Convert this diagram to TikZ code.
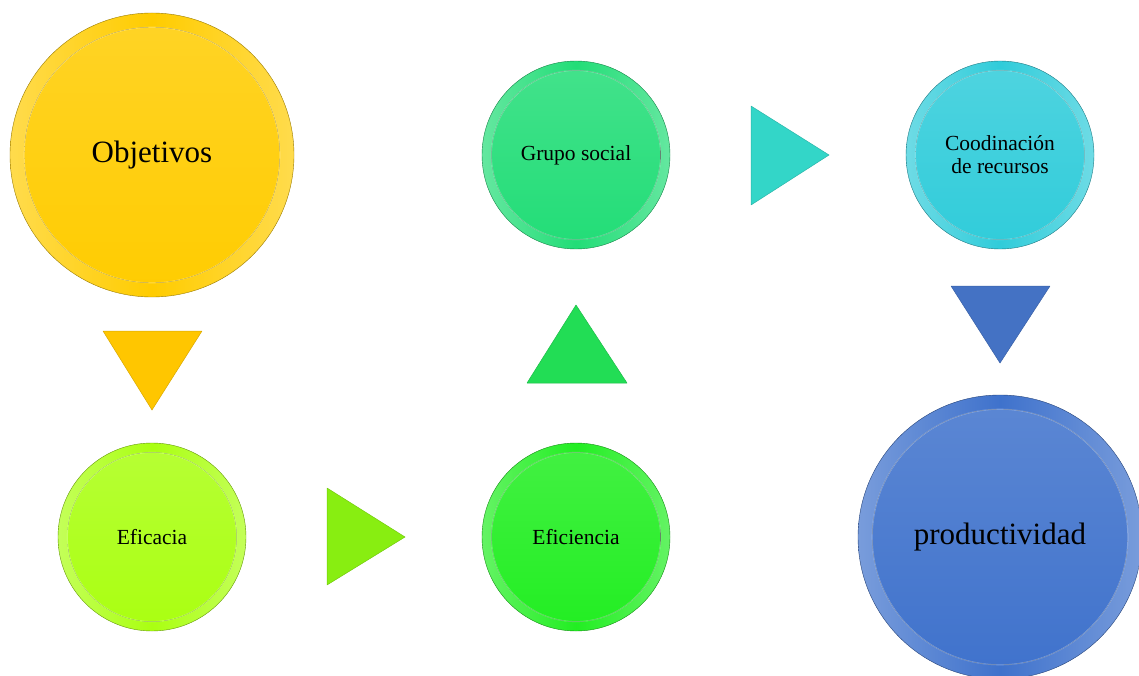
\documentclass[tikz,border=0pt]{standalone}
\usepackage{fontspec}
\setmainfont{Liberation Serif}
\definecolor{objcol}{HTML}{FFCC00}
\definecolor{eficol}{HTML}{AAFF11}
\definecolor{efncol}{HTML}{22EE22}
\definecolor{grucol}{HTML}{22DD77}
\definecolor{coocol}{HTML}{30CCDA}
\definecolor{procol}{HTML}{3F72CC}
\definecolor{triA}{HTML}{FFC600}
\definecolor{triB}{HTML}{88EE11}
\definecolor{triC}{HTML}{22DD55}
\definecolor{triD}{HTML}{33D6C8}
\definecolor{triE}{HTML}{4472C4}
\tikzset{
  bead/.style 2 args={circle, inner sep=0pt, outer sep=0pt, align=center,
    minimum size={2*#1pt}, draw=#2!60!black, line width=0.4pt,
    left color=#2!70!white, right color=#2!70!white, middle color=#2,
    path picture={
      \fill[top color=#2!85!white, bottom color=#2]
        (path picture bounding box.center) circle ({0.9*#1pt});
      \draw[white, opacity=0.3, line width=1pt]
        (path picture bounding box.center) circle ({0.9*#1pt});
    }},
  bigtext/.style={font=\fontsize{31}{36}\selectfont},
  smalltext/.style={font=\fontsize{21.5}{23}\selectfont},
  wedge/.style={fill=#1, draw=#1!85!black, line width=0.5pt, line join=round}
}
\begin{document}
\begin{tikzpicture}[x=1pt, y=-1pt]
\useasboundingbox (0,0) rectangle (1139,676);
% circles
\node[bead={142}{objcol}, bigtext]   (obj) at (152,155) {Objetivos};
\node[bead={94}{eficol}, smalltext]  (efa) at (152,537) {Eficacia};
\node[bead={94}{efncol}, smalltext]  (efn) at (576,537) {Eficiencia};
\node[bead={94}{grucol}, smalltext]  (gru) at (576,155) {Grupo social};
\node[bead={94}{coocol}, smalltext]  (coo) at (1000,155) {Coodinación\\de recursos};
\node[bead={142}{procol}, bigtext]   (pro) at (1000,537) {productividad};
% triangles
\path[wedge=triA] (103,331) -- (202,331) -- (152,410) -- cycle;
\path[wedge=triB] (327,488) -- (405,537) -- (327,585) -- cycle;
\path[wedge=triC] (527,383) -- (576,305) -- (627,383) -- cycle;
\path[wedge=triD] (751,106) -- (829,155) -- (751,205) -- cycle;
\path[wedge=triE] (951,286) -- (1050,286) -- (1000,363) -- cycle;
\end{tikzpicture}
\end{document}
